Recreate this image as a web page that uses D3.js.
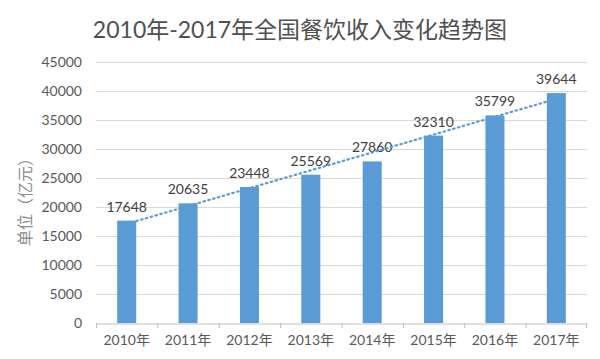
<!DOCTYPE html>
<html><head><meta charset="utf-8">
<script src="https://cdn.jsdelivr.net/npm/d3@7"></script>
<style>body{margin:0;background:#fff}svg{display:block}text{font-family:Lato,"Noto Sans CJK SC",sans-serif}</style>
</head><body><svg id="c" width="600" height="359"></svg>
<script>
const title = "2010年-2017年全国餐饮收入变化趋势图";
const yAxisTitle = "单位（亿元）";
const categories = ["2010年","2011年","2012年","2013年","2014年","2015年","2016年","2017年"];
const values = [17648,20635,23448,25569,27860,32310,35799,39644];
const yTicks = [0,5000,10000,15000,20000,25000,30000,35000,40000,45000];

const svg = d3.select("#c");
const m = {l:96, r:587, t:62, b:323};
const x = d3.scaleBand().domain(categories).range([m.l, m.r]).paddingInner(0.69).paddingOuter(0.345);
const xb = d3.scaleBand().domain(categories).range([m.l, m.r]);
const y = d3.scaleLinear().domain([0,45000]).range([m.b, m.t]);
const ff = "Lato,'Noto Sans CJK SC',sans-serif";

svg.append("text").attr("x",300).attr("y",38).attr("text-anchor","middle")
  .attr("font-size",23).attr("fill","#505050").text(title);

// gridlines
svg.append("g").selectAll("line").data(yTicks.filter(d=>d>0)).join("line")
  .attr("x1",m.l).attr("x2",m.r).attr("y1",d=>y(d)+0.5).attr("y2",d=>y(d)+0.5)
  .attr("stroke","#d9d9d9").attr("stroke-width",1);

// y axis labels
const ya = svg.append("g").attr("transform",`translate(${m.l},0)`)
  .call(d3.axisLeft(y).tickValues(yTicks).tickSize(0).tickPadding(14).tickFormat(d3.format("d")));
ya.select(".domain").remove();
ya.selectAll("text").attr("font-size",14).attr("fill","#595959").style("font-family",ff);

// x axis
const xa = svg.append("g").attr("transform",`translate(0,${m.b+0.5})`)
  .call(d3.axisBottom(xb).tickSize(0).tickPadding(12));
xa.select(".domain").attr("stroke","#bfbfbf");
xa.selectAll("text").attr("font-size",14).attr("fill","#595959").style("font-family",ff);
svg.append("g").selectAll("line").data(categories.concat(["end"])).join("line")
  .attr("x1",(d,i)=> i<categories.length ? xb(d)+0.5 : m.r-0.5)
  .attr("x2",(d,i)=> i<categories.length ? xb(d)+0.5 : m.r-0.5)
  .attr("y1",m.b).attr("y2",m.b+5).attr("stroke","#bfbfbf");

// bars
svg.append("g").selectAll("rect").data(values).join("rect")
  .attr("x",(d,i)=>x(categories[i])).attr("width",x.bandwidth())
  .attr("y",d=>y(d)).attr("height",d=>m.b-y(d)).attr("fill","#5b9bd5");

// labels
svg.append("g").selectAll("text").data(values).join("text")
  .attr("x",(d,i)=>x(categories[i])+x.bandwidth()/2).attr("y",d=>y(d)-9)
  .attr("text-anchor","middle").attr("font-size",14).attr("fill","#404040").text(d=>d);

// linear trendline
const n = values.length, xs = d3.range(1,n+1);
const mx = d3.mean(xs), my = d3.mean(values);
const slope = d3.sum(xs.map((xi,i)=>(xi-mx)*(values[i]-my)))/d3.sum(xs.map(xi=>(xi-mx)**2));
const icpt = my - slope*mx;
const trend = [0,n-1].map(i=>[x(categories[i])+x.bandwidth()/2, y(icpt+slope*(i+1))]);
svg.append("path").attr("d",d3.line()(trend)).attr("stroke","#5b9bd5").attr("stroke-width",2.2)
  .attr("stroke-dasharray","1.5 3.5").attr("stroke-linecap","round").attr("fill","none");

// y axis title
svg.append("text").attr("transform","translate(31,198) rotate(-90)").attr("text-anchor","middle")
  .attr("font-size",16).attr("fill","#8c8c8c").text(yAxisTitle);
</script></body></html>
